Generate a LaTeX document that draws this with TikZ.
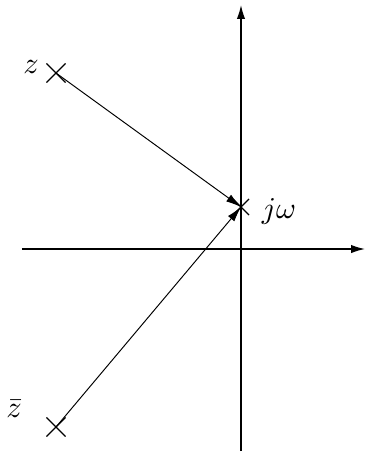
\documentclass[tikz,border=0pt]{standalone}
\usepackage{amsmath,amssymb}
\usepackage{tikz}
\usetikzlibrary{arrows.meta,shapes.misc}

\begin{document}
\begin{tikzpicture}[
  x=0.0127cm, y=-0.0127cm,
  pole/.style={draw, cross out, inner sep=0pt, line width=0.4pt},
  lab/.style={inner sep=0pt, font=\fontsize{11}{13}\selectfont},
  axis/.style={-{Latex[length=5pt, width=3pt]}, line width=0.5pt},
  arrow/.style={-{Latex[length=5.5pt, width=3pt]}, line width=0.35pt}
]
\useasboundingbox (0,0) rectangle (366,453);
% axes
\coordinate (xl) at (22,249);
\coordinate (xr) at (365,249);
\coordinate (yb) at (241,451);
\coordinate (yt) at (241,5);
\draw[axis] (xl) -- (xr);
\draw[axis] (yb) -- (yt);
% poles
\node[pole, minimum size=18*0.0127cm] (z) at (56,73) {};
\node[pole, minimum size=18*0.0127cm] (zb) at (56,427) {};
\node[pole, minimum size=15*0.0127cm] (jw) at (241,207) {};
\node[lab] (zlab) at (31,67) {$z$};
\node[lab] (zblab) at (14,409) {$\bar{z}$};
\node[lab] (jwlab) at (279,211) {$j\omega$};
\draw[arrow] (z.center) -- (jw.center);
\draw[arrow] (zb.center) -- (jw.center);
\end{tikzpicture}
\end{document}
